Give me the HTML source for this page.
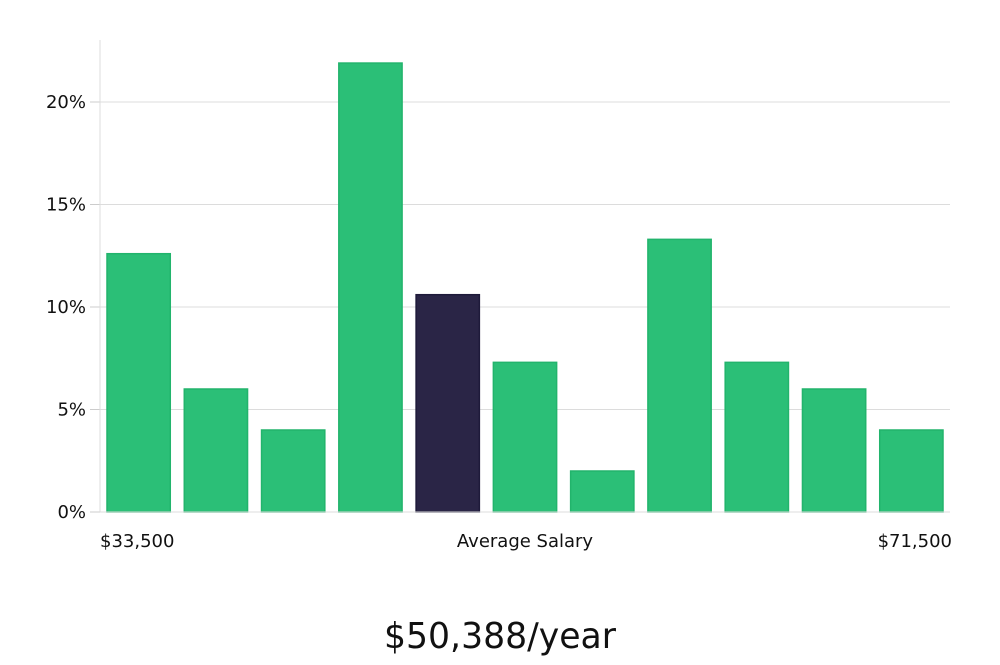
<!DOCTYPE html>
<html><head><meta charset="utf-8"><style>
body{margin:0;background:#fff;width:1000px;height:660px;overflow:hidden}
text{font-family:"DejaVu Sans","Liberation Sans",sans-serif}
</style></head><body>
<svg id="chart" width="1000" height="660">
<g id="grid"></g><g id="bars"></g><g id="axes"></g>
<text x="100" y="547" font-size="18" fill="#111">$33,500</text>
<text x="525" y="547" font-size="18" fill="#111" text-anchor="middle">Average Salary</text>
<text x="952" y="547" font-size="18" fill="#111" text-anchor="end">$71,500</text>
<text x="500" y="648" font-size="36" fill="#111" text-anchor="middle" textLength="232" lengthAdjust="spacingAndGlyphs">$50,388/year</text>
</svg>
<script>
const values=[12.6,6.0,4.0,21.9,10.6,7.3,2.0,13.3,7.3,6.0,4.0];
const highlight=[false,false,false,false,true,false,false,false,false,false,false];
const ticks=[0,5,10,15,20];
const tickLabels=["0%","5%","10%","15%","20%"];
const ns="http://www.w3.org/2000/svg";
const x0=100,x1=950,yb=512,pxPer=20.5;
const y=v=>yb-v*pxPer;
const step=(x1-x0)/values.length;
function mk(t,a,p){const e=document.createElementNS(ns,t);for(const k in a)e.setAttribute(k,a[k]);p.appendChild(e);return e;}
const grid=document.getElementById('grid'),bars=document.getElementById('bars'),axes=document.getElementById('axes');
ticks.forEach((t,i)=>{
  if(t>0){const l=mk('line',{x1:x0,x2:x1,y1:y(t),y2:y(t),stroke:'#dcdcdc','stroke-width':1},grid);
  
  }
  const tk=mk('line',{x1:x0-10,x2:x0,y1:y(t),y2:y(t),stroke:'#ccc'},axes);
  
  
  const tx=mk('text',{x:x0-14,y:y(t)+6,'font-size':18,'text-anchor':'end',fill:'#111'},axes);
  tx.textContent=tickLabels[i];
  
  
});
const ax=mk('line',{x1:x0,x2:x0,y1:40,y2:yb,stroke:'#dcdcdc'},axes);


const bx=mk('line',{x1:x0,x2:x1,y1:yb,y2:yb,stroke:'#dcdcdc'},axes);


values.forEach((v,i)=>{
  const r=mk('rect',{x:x0+i*step+7,y:y(v),width:step-14,height:yb-y(v),
    fill:highlight[i]?'#2a2546':'#2bbf77',stroke:highlight[i]?'#1e1a3a':'#22b46c','stroke-width':1.5},bars);
  
  
});
</script>
</body></html>
